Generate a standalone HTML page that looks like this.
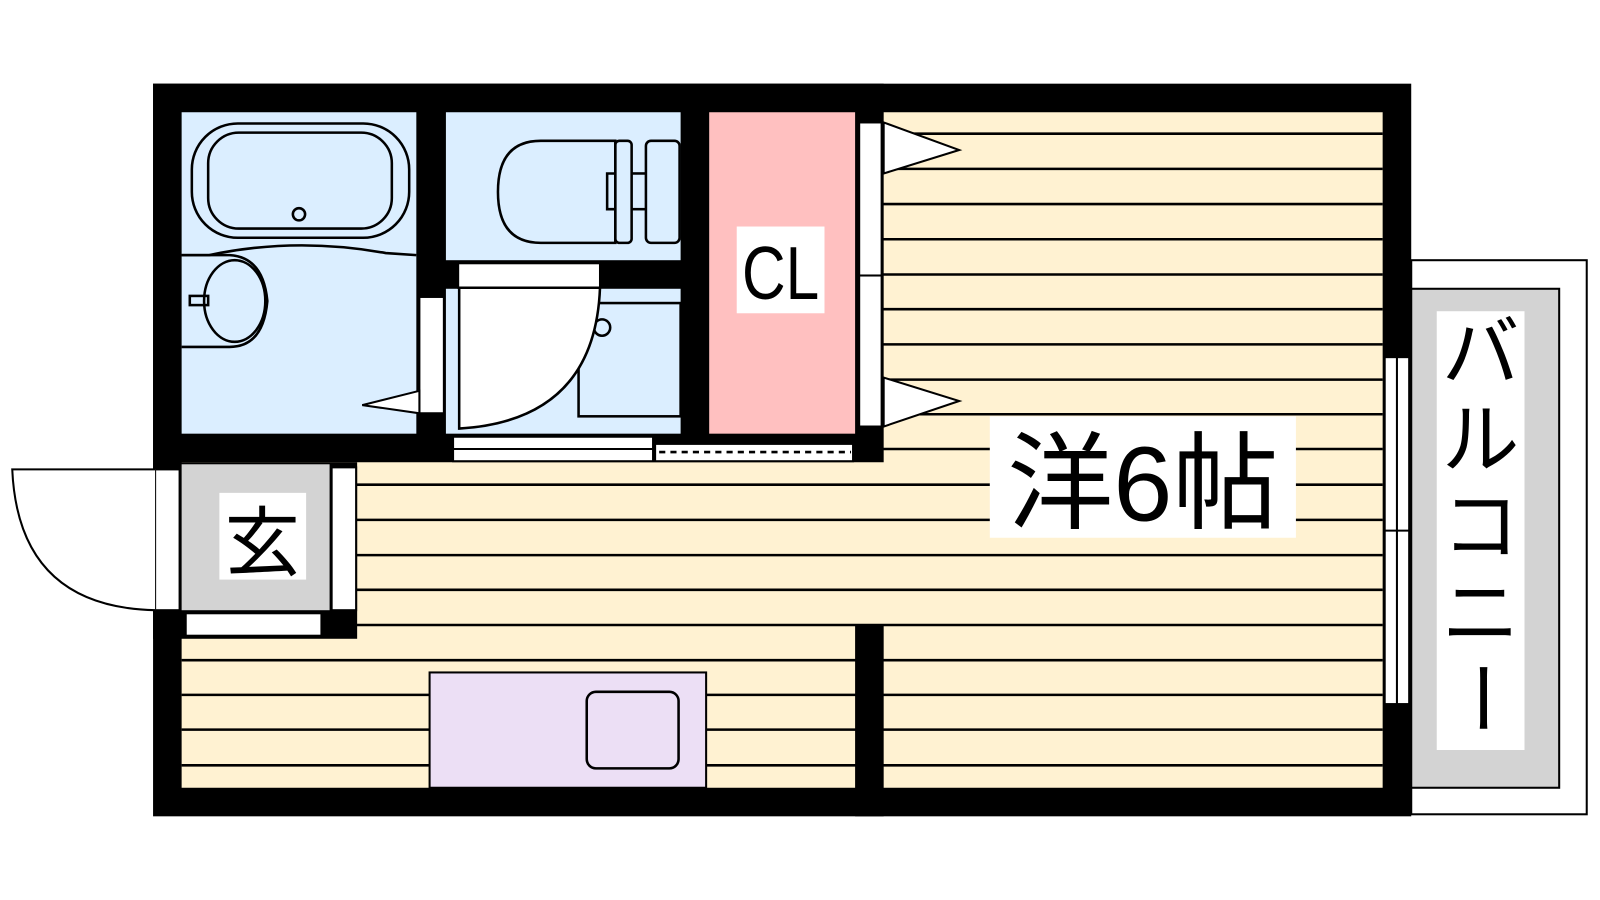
<!DOCTYPE html>
<html><head><meta charset="utf-8"><style>html,body{margin:0;padding:0;background:#fff;width:1600px;height:900px;overflow:hidden}</style></head>
<body>
<svg width="1600" height="900" viewBox="0 0 1568 882" xmlns="http://www.w3.org/2000/svg">
<rect width="1568" height="882" fill="#fff"/>
<rect x="1383" y="255" width="172" height="543" fill="#fff" stroke="#000" stroke-width="2"/>
<rect x="1383" y="283" width="145" height="489" fill="#d3d3d3" stroke="#000" stroke-width="2"/>
<rect x="1408" y="305" width="86" height="430" fill="#fff"/>
<g font-family="Liberation Sans, Noto Sans CJK JP, sans-serif" font-size="76" text-anchor="middle" fill="#000">
<text x="1451" y="372">バ</text><text x="1451" y="457">ル</text><text x="1451" y="542">コ</text><text x="1451" y="627">ニ</text><text x="0" y="0" transform="translate(1451 684) rotate(90) translate(0 26)">ー</text>
</g>
<rect x="150" y="82" width="1233" height="718" fill="#000"/>
<rect x="178" y="110" width="1177" height="662" fill="#fff2d2"/>
<g stroke="#000" stroke-width="2.5">
<line x1="178" y1="131" x2="1355" y2="131"/><line x1="178" y1="165.5" x2="1355" y2="165.5"/><line x1="178" y1="200" x2="1355" y2="200"/><line x1="178" y1="234.5" x2="1355" y2="234.5"/><line x1="178" y1="269" x2="1355" y2="269"/><line x1="178" y1="303" x2="1355" y2="303"/><line x1="178" y1="337.5" x2="1355" y2="337.5"/><line x1="178" y1="372" x2="1355" y2="372"/><line x1="178" y1="406" x2="1355" y2="406"/><line x1="178" y1="440" x2="1355" y2="440"/><line x1="178" y1="475" x2="1355" y2="475"/><line x1="178" y1="509.5" x2="1355" y2="509.5"/><line x1="178" y1="544" x2="1355" y2="544"/><line x1="178" y1="578" x2="1355" y2="578"/><line x1="178" y1="612.5" x2="1355" y2="612.5"/><line x1="178" y1="647" x2="1355" y2="647"/><line x1="178" y1="681" x2="1355" y2="681"/><line x1="178" y1="715" x2="1355" y2="715"/><line x1="178" y1="750" x2="1355" y2="750"/>
</g>
<rect x="150" y="82" width="716" height="371" fill="#000"/>
<rect x="178" y="110" width="230" height="315" fill="#dbeeff"/>
<rect x="437" y="110" width="230" height="145" fill="#dbeeff"/>
<rect x="437" y="283" width="230" height="142" fill="#dbeeff"/>
<rect x="695" y="110" width="143" height="315" fill="#ffc0c0"/>
<g fill="none" stroke="#000" stroke-width="2.5">
<rect x="188" y="121" width="213" height="112" rx="45"/>
<rect x="204" y="130" width="180" height="94" rx="30"/>
<circle cx="293" cy="210" r="6"/>
<path d="M178,250 L205,250 Q290,232 378,248 L408,250"/>
<path d="M178,250 L225,250 Q258,252 262,295 Q258,340 225,340 L178,340"/>
<ellipse cx="230" cy="295" rx="30" ry="40"/>
<rect x="186" y="290" width="18" height="9"/>
<path d="M603,138 L530,138 Q488,138 488,188 Q488,238 530,238 L603,238 Z"/>
<rect x="603" y="138" width="16" height="100" rx="4"/>
<rect x="633" y="138" width="33" height="100" rx="5"/>
<path d="M603,170 L595,170 L595,205 L603,205"/>
<line x1="619" y1="170" x2="633" y2="170"/><line x1="619" y1="205" x2="633" y2="205"/>
<rect x="567" y="297" width="100" height="111" fill="none"/>
<circle cx="590" cy="321" r="8"/>
</g>
<rect x="449" y="258" width="139" height="24" fill="#fff" stroke="#000" stroke-width="2"/>
<path d="M450,282 L588,282 Q583,412 450,420 Z" fill="#fff" stroke="#000" stroke-width="2.5"/>
<rect x="411" y="291" width="24" height="114" fill="#fff" stroke="#000" stroke-width="2"/>
<path d="M411,383 L355,397 L411,405 Z" fill="#fff" stroke="#000" stroke-width="2"/>
<rect x="722" y="222" width="86" height="85" fill="#fff"/>
<text x="765" y="293" font-family="Liberation Sans, sans-serif" font-size="74" text-anchor="middle" transform="translate(765 0) scale(0.8 1) translate(-765 0)">CL</text>
<rect x="842" y="120" width="22" height="150" fill="#fff" stroke="#000" stroke-width="2"/>
<rect x="842" y="270" width="22" height="148" fill="#fff" stroke="#000" stroke-width="2"/>
<path d="M866,120 L940,147 L866,170 Z" fill="#fff" stroke="#000" stroke-width="2"/>
<path d="M866,370 L940,393 L866,418 Z" fill="#fff" stroke="#000" stroke-width="2"/>
<rect x="444" y="428" width="196" height="24" fill="#fff" stroke="#000" stroke-width="2"/>
<line x1="444" y1="440" x2="640" y2="440" stroke="#000" stroke-width="2"/>
<rect x="642" y="435" width="194" height="17" fill="#fff" stroke="#000" stroke-width="2"/>
<line x1="646" y1="443" x2="834" y2="443" stroke="#000" stroke-width="2.5" stroke-dasharray="6,5"/>
<rect x="150" y="453" width="200" height="173" fill="#000"/>
<rect x="178" y="455" width="145" height="143" fill="#d3d3d3"/>
<rect x="325" y="458" width="24" height="140" fill="#fff" stroke="#000" stroke-width="2"/>
<rect x="182" y="601" width="133" height="22" fill="#fff" stroke="#000" stroke-width="2"/>
<rect x="152" y="460" width="24" height="138" fill="#fff" stroke="#000" stroke-width="2"/>
<path d="M152,460 L12,460 Q18,595 152,598" fill="#fff" stroke="#000" stroke-width="2"/>
<rect x="215" y="483" width="85" height="85" fill="#fff"/>
<text x="257" y="558" font-family="Liberation Sans, Noto Sans CJK JP, sans-serif" font-size="74" text-anchor="middle">玄</text>
<rect x="838" y="612" width="28" height="188" fill="#000"/>
<rect x="421" y="659" width="271" height="113" fill="#ecdff5" stroke="#000" stroke-width="2"/>
<rect x="575" y="678" width="90" height="75" rx="9" fill="#ecdff5" stroke="#000" stroke-width="2.5"/>
<rect x="1357" y="350" width="24" height="340" fill="#fff" stroke="#000" stroke-width="2"/>
<line x1="1369" y1="350" x2="1369" y2="690" stroke="#000" stroke-width="2"/>
<line x1="1357" y1="520" x2="1381" y2="520" stroke="#000" stroke-width="2"/>
<rect x="970" y="408" width="300" height="119" fill="#fff"/>
<text x="1120" y="510" font-family="Liberation Sans, Noto Sans CJK JP, sans-serif" font-size="104" text-anchor="middle">洋6帖</text>
</svg>
</body></html>
